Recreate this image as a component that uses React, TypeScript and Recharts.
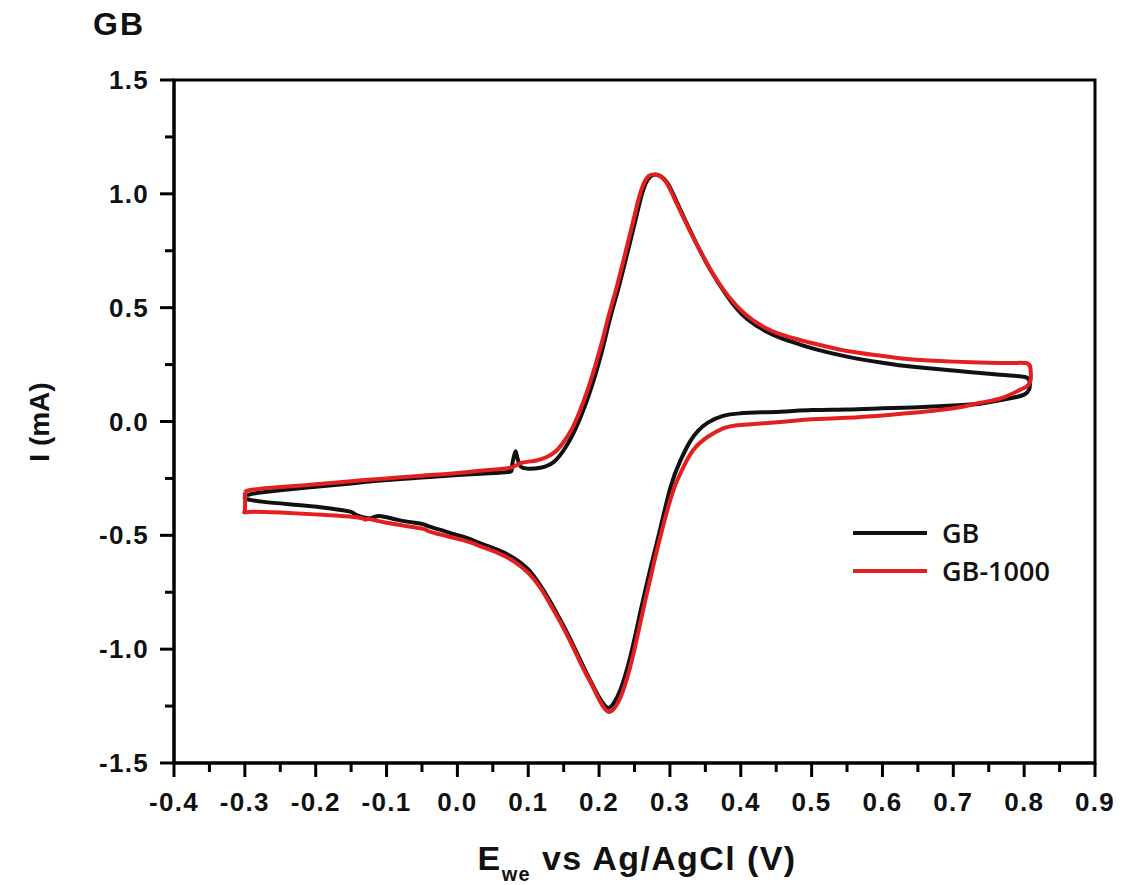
import React from 'react';
import { LineChart, Line, XAxis, YAxis, ReferenceArea, Legend } from 'recharts';

const FONT = '"Liberation Sans", Arial, Helvetica, sans-serif';

// Tick values
const xTicks = [-0.4, -0.35, -0.3, -0.25, -0.2, -0.15, -0.1, -0.05, 0, 0.05, 0.1, 0.15, 0.2, 0.25, 0.3, 0.35, 0.4, 0.45, 0.5, 0.55, 0.6, 0.65, 0.7, 0.75, 0.8, 0.85, 0.9];
const xMajorLabels = ['-0.4', '-0.3', '-0.2', '-0.1', '0.0', '0.1', '0.2', '0.3', '0.4', '0.5', '0.6', '0.7', '0.8', '0.9'];
const yTicks = [-1.5, -1.25, -1.0, -0.75, -0.5, -0.25, 0, 0.25, 0.5, 0.75, 1.0, 1.25, 1.5];
const yMajorLabels = ['-1.5', '-1.0', '-0.5', '0.0', '0.5', '1.0', '1.5'];

// GB (black) cyclic voltammogram: E (V), I (mA), in scan order
const gbE = [
  -0.298, -0.29, -0.25, -0.2, -0.15, -0.1, -0.05, 0.0, 0.04, 0.072, 0.077, 0.081, 0.083, 0.086, 0.09, 0.1, 0.117, 0.136, 0.153, 0.164,
  0.174, 0.186, 0.198, 0.207, 0.216, 0.226, 0.235, 0.249, 0.258, 0.265, 0.272, 0.28, 0.288, 0.297, 0.306, 0.315, 0.333, 0.357, 0.381, 0.409,
  0.446, 0.47, 0.5, 0.55, 0.6, 0.643, 0.7, 0.738, 0.78, 0.803, 0.808, 0.807, 0.8, 0.784, 0.76, 0.738, 0.7, 0.643, 0.6, 0.55,
  0.5, 0.456, 0.42, 0.4, 0.375, 0.353, 0.34, 0.329, 0.315, 0.301, 0.287, 0.273, 0.258, 0.244, 0.23, 0.22, 0.213, 0.206, 0.198, 0.188,
  0.178, 0.16, 0.145, 0.13, 0.117, 0.1, 0.08, 0.057, 0.03, 0.009, -0.038, -0.05, -0.084, -0.11, -0.121, -0.134, -0.146, -0.15, -0.179, -0.225,
  -0.273, -0.293, -0.3, -0.298,
];
const gbI = [
  -0.33, -0.318, -0.302, -0.287, -0.272, -0.257, -0.246, -0.235, -0.228, -0.222, -0.2, -0.14, -0.138, -0.175, -0.2, -0.207, -0.203, -0.178, -0.112, -0.05,
  0.02, 0.12, 0.24, 0.345, 0.459, 0.57, 0.679, 0.854, 0.97, 1.04, 1.075, 1.085, 1.075, 1.045, 0.99, 0.929, 0.81, 0.666, 0.55, 0.45,
  0.38, 0.352, 0.322, 0.285, 0.258, 0.24, 0.224, 0.213, 0.202, 0.194, 0.17, 0.14, 0.118, 0.104, 0.09, 0.078, 0.07, 0.062, 0.058, 0.053,
  0.05, 0.043, 0.04, 0.036, 0.025, -0.006, -0.04, -0.085, -0.17, -0.287, -0.463, -0.639, -0.841, -1.034, -1.179, -1.24, -1.258, -1.24, -1.2, -1.14,
  -1.078, -0.96, -0.87, -0.785, -0.72, -0.65, -0.6, -0.564, -0.532, -0.507, -0.463, -0.45, -0.432, -0.415, -0.424, -0.42, -0.405, -0.397, -0.382, -0.367,
  -0.353, -0.344, -0.338, -0.33,
];

// GB-1000 (red)
const gb1000E = [
  -0.3, -0.29, -0.25, -0.2, -0.15, -0.1, -0.05, 0.0, 0.04, 0.075, 0.09, 0.113, 0.136, 0.15, 0.162, 0.172, 0.184, 0.196, 0.205, 0.214,
  0.224, 0.233, 0.247, 0.256, 0.263, 0.27, 0.278, 0.286, 0.295, 0.304, 0.313, 0.331, 0.355, 0.379, 0.407, 0.446, 0.5, 0.55, 0.6, 0.643,
  0.7, 0.738, 0.78, 0.804, 0.809, 0.809, 0.803, 0.794, 0.77, 0.738, 0.7, 0.643, 0.6, 0.55, 0.5, 0.456, 0.4, 0.375, 0.353, 0.333,
  0.319, 0.305, 0.29, 0.276, 0.261, 0.247, 0.233, 0.222, 0.214, 0.207, 0.199, 0.189, 0.178, 0.16, 0.145, 0.13, 0.117, 0.1, 0.08, 0.057,
  0.03, 0.009, -0.038, -0.05, -0.1, -0.125, -0.13, -0.14, -0.19, -0.25, -0.295, -0.3, -0.3,
];
const gb1000I = [
  -0.31, -0.3, -0.288, -0.276, -0.262, -0.25, -0.238, -0.226, -0.214, -0.203, -0.182, -0.17, -0.138, -0.09, -0.03, 0.04, 0.14, 0.26, 0.36, 0.47,
  0.58, 0.69, 0.865, 0.98, 1.045, 1.078, 1.085, 1.078, 1.05, 0.995, 0.935, 0.82, 0.68, 0.565, 0.47, 0.395, 0.345, 0.31, 0.288, 0.272,
  0.263, 0.259, 0.257, 0.256, 0.23, 0.18, 0.152, 0.139, 0.105, 0.082, 0.058, 0.038, 0.026, 0.016, 0.01, -0.002, -0.015, -0.03, -0.068, -0.125,
  -0.2, -0.301, -0.463, -0.64, -0.845, -1.04, -1.19, -1.258, -1.276, -1.258, -1.215, -1.152, -1.088, -0.97, -0.88, -0.797, -0.73, -0.665, -0.615, -0.577,
  -0.545, -0.522, -0.485, -0.47, -0.445, -0.428, -0.432, -0.422, -0.41, -0.4, -0.397, -0.39, -0.31,
];

const seriesNames = ['GB', 'GB-1000'];
const seriesColors = ['#111111', '#e3201f'];

const gbData = gbE.map((x, i) => ({ x, y: gbI[i] }));
const gb1000Data = gb1000E.map((x, i) => ({ x, y: gb1000I[i] }));

const isMajor = (v: number, step: number) => Math.abs(v / step - Math.round(v / step)) < 1e-6;

const XTick = (props: any) => {
  const { x, y, payload } = props;
  const v = payload.value as number;
  const major = isMajor(v, 0.1);
  const idx = Math.round((v + 0.4) * 10);
  return (
    <g>
      <line x1={x} x2={x} y1={y} y2={y + (major ? 14 : 9)} stroke="#000" strokeWidth={3} />
      {major && (
        <text x={x} y={y + 48} textAnchor="middle" fontFamily={FONT} fontWeight="bold" fontSize={26} letterSpacing={1.3} fill="#111">
          {xMajorLabels[idx]}
        </text>
      )}
    </g>
  );
};

const YTick = (props: any) => {
  const { x, y, payload } = props;
  const v = payload.value as number;
  const major = isMajor(v, 0.5);
  const idx = Math.round((v + 1.5) * 2);
  return (
    <g>
      <line x1={x} x2={x - (major ? 14 : 9)} y1={y} y2={y} stroke="#000" strokeWidth={3} />
      {major && (
        <text x={x - 25} y={y + 9} textAnchor="end" fontFamily={FONT} fontWeight="bold" fontSize={26} letterSpacing={1.3} fill="#111">
          {yMajorLabels[idx]}
        </text>
      )}
    </g>
  );
};

const XLabel = () => (
  <text x={637} y={870} textAnchor="middle" fontFamily={FONT} fontWeight="bold" fontSize={34} letterSpacing={1.4} fill="#111">
    E
    <tspan fontSize={20} dy={11}>we</tspan>
    <tspan dy={-11}> vs Ag/AgCl (V)</tspan>
  </text>
);

const YLabel = () => (
  <text
    x={49}
    y={422}
    transform="rotate(-90 49 422)"
    textAnchor="middle"
    fontFamily={FONT}
    fontWeight="bold"
    fontSize={28}
    fill="#111"
  >
    I (mA)
  </text>
);

const LegendContent = () => (
  <svg width={260} height={80} style={{ display: 'block', overflow: 'visible' }}>
    {seriesNames.map((name, i) => (
      <g key={name}>
        <line x1={8} x2={82} y1={23 + i * 38} y2={23 + i * 38} stroke={seriesColors[i]} strokeWidth={4} />
        <text x={97} y={33 + i * 38} fontFamily={'"Open Sans", ' + FONT} fontWeight={600} fontSize={27} fill="#111">
          {name}
        </text>
      </g>
    ))}
  </svg>
);

export default function App() {
  return (
    <div style={{ position: 'absolute', left: 0, top: 0, width: 1132, height: 885, background: '#fff' }}>
      <div
        style={{
          position: 'absolute',
          left: 93,
          top: 4,
          fontFamily: FONT,
          fontWeight: 'bold',
          fontSize: 32,
          letterSpacing: 2,
          lineHeight: '40px',
          color: '#111',
          zIndex: 2,
        }}
      >
        GB
      </div>
      <LineChart width={1132} height={885} margin={{ top: 80, right: 37, bottom: 62, left: 74 }}>
        <XAxis
          dataKey="x"
          type="number"
          domain={[-0.4, 0.9]}
          ticks={xTicks}
          interval={0}
          height={60}
          tickSize={0}
          tickMargin={0}
          tickLine={false}
          tick={<XTick />}
          axisLine={{ stroke: '#000', strokeWidth: 3 }}
          allowDataOverflow
          label={<XLabel />}
        />
        <YAxis
          dataKey="y"
          type="number"
          domain={[-1.5, 1.5]}
          ticks={yTicks}
          interval={0}
          width={100}
          tickSize={0}
          tickMargin={0}
          tickLine={false}
          tick={<YTick />}
          axisLine={{ stroke: '#000', strokeWidth: 3 }}
          allowDataOverflow
          label={<YLabel />}
        />
        <ReferenceArea x1={-0.4} x2={0.9} y1={-1.5} y2={1.5} fill="none" stroke="#000" strokeWidth={3} fillOpacity={0} />
        <Line
          data={gbData}
          dataKey="y"
          name={seriesNames[0]}
          type="natural"
          stroke={seriesColors[0]}
          strokeWidth={4}
          dot={false}
          activeDot={false}
          strokeLinejoin="round"
          isAnimationActive={false}
        />
        <Line
          data={gb1000Data}
          dataKey="y"
          name={seriesNames[1]}
          type="natural"
          stroke={seriesColors[1]}
          strokeWidth={4}
          dot={false}
          activeDot={false}
          strokeLinejoin="round"
          isAnimationActive={false}
        />
        <Legend
          layout="vertical"
          align="center"
          verticalAlign="middle"
          content={<LegendContent />}
          wrapperStyle={{ left: 845, top: 510, width: 260, height: 80 }}
        />
      </LineChart>
    </div>
  );
}
